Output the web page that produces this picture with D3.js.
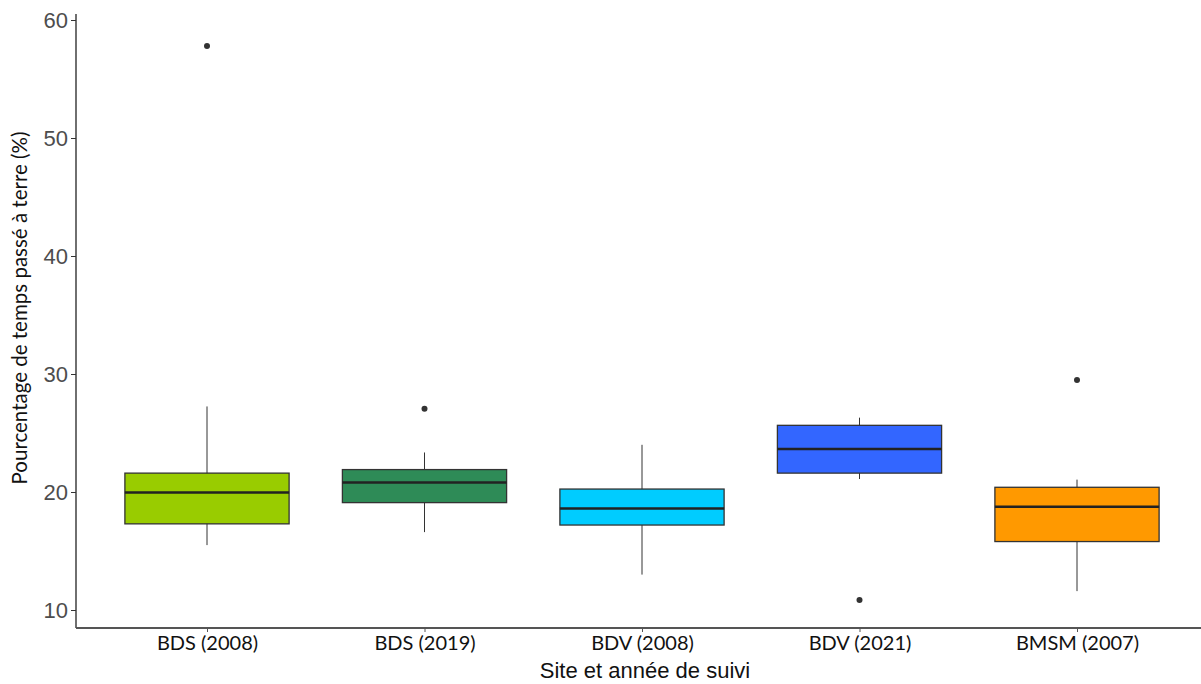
<!DOCTYPE html>
<html>
<head>
<meta charset="utf-8">
<script src="https://cdn.jsdelivr.net/npm/d3@7"></script>
<style>
  body { margin: 0; background: #fff; }
  svg { display: block; }
</style>
</head>
<body>
<div id="chart"></div>
<script>
var width = 1201, height = 684;

// data
var sites = ["BDS (2008)", "BDS (2019)", "BDV (2008)", "BDV (2021)", "BMSM (2007)"];
var whiskerLow = [15.5, 16.6, 13.0, 21.1, 11.6];
var q1 = [17.3, 19.1, 17.2, 21.6, 15.8];
var median = [19.95, 20.8, 18.6, 23.65, 18.75];
var q3 = [21.6, 21.9, 20.25, 25.65, 20.4];
var whiskerHigh = [27.25, 23.35, 24.0, 26.3, 21.05];
var outliers = [[57.8], [27.05], [], [10.85], [29.5]];
var colors = ["#99cc00", "#2e8b57", "#00ccff", "#3366ff", "#ff9900"];
var yTicks = [10, 20, 30, 40, 50, 60];

var svg = d3.select("#chart").append("svg")
    .attr("width", width)
    .attr("height", height);

var yScale = d3.scaleLinear()
    .domain([10, 60])
    .range([610, 20]);

// ggplot-style discrete expansion: 0.6 unit either side
var xScale = d3.scalePoint()
    .domain(sites)
    .range([207, 1077]);
var step = xScale.step();
var boxW = step * 0.755;

var boxes = sites.map(function(s, i) {
  return {site: s, lo: whiskerLow[i], q1: q1[i], med: median[i], q3: q3[i],
          hi: whiskerHigh[i], out: outliers[i], color: colors[i]};
});

var g = svg.selectAll("g.box")
    .data(boxes)
    .enter()
    .append("g")
    .attr("class", "box");

g.append("line")
    .attr("x1", function(d) { return xScale(d.site); })
    .attr("x2", function(d) { return xScale(d.site); })
    .attr("y1", function(d) { return yScale(d.hi); })
    .attr("y2", function(d) { return yScale(d.lo); })
    .attr("stroke", "#333")
    .attr("stroke-width", 1);

g.append("rect")
    .attr("x", function(d) { return xScale(d.site) - boxW / 2; })
    .attr("width", boxW)
    .attr("y", function(d) { return yScale(d.q3); })
    .attr("height", function(d) { return yScale(d.q1) - yScale(d.q3); })
    .attr("fill", function(d) { return d.color; })
    .attr("stroke", "#333")
    .attr("stroke-width", 1.3);

g.append("line")
    .attr("x1", function(d) { return xScale(d.site) - boxW / 2; })
    .attr("x2", function(d) { return xScale(d.site) + boxW / 2; })
    .attr("y1", function(d) { return yScale(d.med); })
    .attr("y2", function(d) { return yScale(d.med); })
    .attr("stroke", "#222")
    .attr("stroke-width", 2.5);

g.selectAll("circle")
    .data(function(d) { return d.out.map(function(v) { return {site: d.site, v: v}; }); })
    .enter()
    .append("circle")
    .attr("cx", function(d) { return xScale(d.site); })
    .attr("cy", function(d) { return yScale(d.v); })
    .attr("r", 3)
    .attr("fill", "#333");

// y axis
var yAxis = svg.append("g")
    .attr("transform", "translate(76,0)")
    .call(d3.axisLeft(yScale).tickValues(yTicks).tickSize(5).tickPadding(3));
yAxis.select(".domain").attr("d", "M0,14V628").attr("stroke", "#222").attr("stroke-width", 1.3);
yAxis.selectAll(".tick line").attr("stroke", "#333");
yAxis.selectAll("text")
    .attr("fill", "#4d4d4d")
    .style("font-family", "Liberation Sans, Arial, sans-serif")
    .style("font-size", "22px");

// x axis
var xAxis = svg.append("g")
    .attr("transform", "translate(0,628)")
    .call(d3.axisBottom(xScale).tickSize(4).tickPadding(4));
xAxis.select(".domain").attr("d", "M76,0H1201").attr("stroke", "#555").attr("stroke-width", 2);
xAxis.selectAll(".tick line").attr("stroke", "#555");
xAxis.selectAll("text")
    .attr("fill", "#111")
    .style("font-family", "Lato, 'Open Sans', sans-serif")
    .style("font-size", "20px");

svg.append("text")
    .attr("x", 645)
    .attr("y", 678)
    .attr("text-anchor", "middle")
    .style("font-family", "Liberation Sans, Arial, sans-serif")
    .style("font-size", "22px")
    .attr("fill", "#111")
    .text("Site et année de suivi");

svg.append("text")
    .attr("transform", "translate(27,308) rotate(-90)")
    .attr("text-anchor", "middle")
    .style("font-family", "Lato, 'Open Sans', sans-serif")
    .style("font-size", "20.5px")
    .attr("fill", "#111")
    .text("Pourcentage de temps passé à terre (%)");
</script>
</body>
</html>
